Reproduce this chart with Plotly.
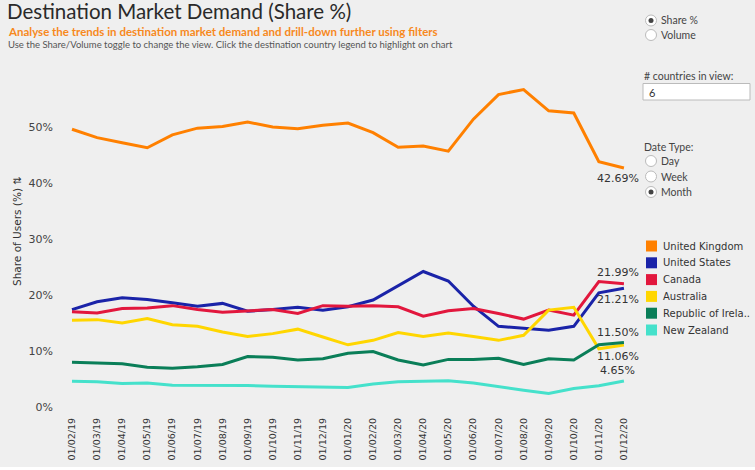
import plotly.graph_objects as go

dates = ["01/02/19","01/03/19","01/04/19","01/05/19","01/06/19","01/07/19","01/08/19",
         "01/09/19","01/10/19","01/11/19","01/12/19","01/01/20","01/02/20","01/03/20",
         "01/04/20","01/05/20","01/06/20","01/07/20","01/08/20","01/09/20","01/10/20",
         "01/11/20","01/12/20"]

uk = [49.6,48.1,47.2,46.3,48.6,49.8,50.1,50.9,50.0,49.7,50.3,50.7,49.0,46.4,46.6,45.7,
      51.4,55.8,56.7,52.9,52.5,43.8,42.69]
us = [17.4,18.8,19.5,19.2,18.6,18.0,18.5,17.1,17.4,17.8,17.3,17.9,19.1,21.7,24.2,22.5,
      18.0,14.4,14.1,13.7,14.4,20.4,21.21]
canada = [17.0,16.8,17.6,17.7,18.1,17.4,16.9,17.2,17.4,16.7,18.1,18.0,18.1,17.9,16.2,17.2,
          17.6,16.7,15.7,17.3,16.4,22.4,21.99]
australia = [15.5,15.6,15.0,15.8,14.7,14.4,13.4,12.6,13.1,13.9,12.5,11.1,11.9,13.3,12.6,13.2,
             12.6,11.9,12.8,17.3,17.8,10.4,11.06]
ireland = [8.0,7.8,7.7,7.1,6.9,7.2,7.6,9.0,8.9,8.4,8.6,9.6,9.9,8.4,7.5,8.5,
           8.5,8.7,7.6,8.6,8.4,11.1,11.50]
nz = [4.6,4.5,4.2,4.3,3.9,3.9,3.8,3.85,3.7,3.6,3.5,3.5,4.1,4.5,4.6,4.7,
      4.3,3.6,3.0,2.4,3.3,3.8,4.65]

names = ["United Kingdom","United States","Canada","Australia","Republic of Irela..","New Zealand"]
series = [uk, us, canada, australia, ireland, nz]
colors = ["#ff8000","#1a23a8","#e2173d","#ffd600","#0a7e58","#45e1cb"]
ytick_vals = [0,10,20,30,40,50]
ytick_text = ["0%","10%","20%","30%","40%","50%"]
end_label_shift = [-11, -11, 11, -11, 10, 10]

W, H = 755, 470
L, R, T, B = 60, 640, 80, 410  # plot area in pixels

def px(x):
    return (x - L) / (R - L)

def py(y):
    return (B - y) / (B - T)

fig = go.Figure()
idx = list(range(len(dates)))
for name, vals, col in zip(names, series, colors):
    fig.add_trace(go.Scatter(x=idx, y=vals, mode="lines", name=name,
                             line=dict(color=col, width=3), showlegend=False,
                             hoverinfo="skip"))

annotations = []
for vals, sh in zip(series, end_label_shift):
    annotations.append(dict(x=idx[-1], y=vals[-1], xref="x", yref="y",
                            text=f"{vals[-1]:.2f}%", showarrow=False, xshift=-6, yshift=sh,
                            font=dict(family="DejaVu Sans", size=11, color="#333")))

# header texts
annotations += [
    dict(x=px(6), y=py(-2), xref="paper", yref="paper", xanchor="left", yanchor="top",
         text="Destination Market Demand (Share %)", showarrow=False, borderpad=0,
         font=dict(family="Lato", size=20.5, color="#2a2a2a")),
    dict(x=px(7), y=py(24), xref="paper", yref="paper", xanchor="left", yanchor="top",
         text="<b>Analyse the trends in destination market demand and drill-down further using filters</b>",
         showarrow=False, borderpad=0, font=dict(family="Lato", size=11.5, color="#f7891d")),
    dict(x=px(7), y=py(38), xref="paper", yref="paper", xanchor="left", yanchor="top",
         text="Use the Share/Volume toggle to change the view. Click the destination country legend to highlight on chart",
         showarrow=False, borderpad=0, font=dict(family="Lato", size=9.5, color="#555")),
    dict(x=px(17), y=py(231), xref="paper", yref="paper", textangle=-90,
         xanchor="center", yanchor="middle",
         text="Share of Users (%) ⇅", showarrow=False,
         font=dict(family="DejaVu Sans", size=10.5, color="#333")),
]

shapes = []
# legend swatches and labels
for i, (name, col) in enumerate(zip(names, colors)):
    cy = 246 + i * 16.8
    shapes.append(dict(type="rect", xref="paper", yref="paper",
                       x0=px(646), x1=px(657), y0=py(cy + 5.5), y1=py(cy - 5.5),
                       line=dict(width=0), fillcolor=col))
    annotations.append(dict(x=px(661), y=py(cy), xref="paper", yref="paper",
                            xanchor="left", yanchor="middle", text=name, showarrow=False,
                            font=dict(family="DejaVu Sans", size=10, color="#333")))

# radio buttons and controls
radios = [(20.5, "Share %", True), (35, "Volume", False),
          (161, "Day", False), (176.5, "Week", False), (192, "Month", True)]
for cy, lab, on in radios:
    r = 5.5
    shapes.append(dict(type="circle", xref="paper", yref="paper",
                       x0=px(651 - r), x1=px(651 + r), y0=py(cy + r), y1=py(cy - r),
                       line=dict(color="#bbb", width=1), fillcolor="white"))
    if on:
        shapes.append(dict(type="circle", xref="paper", yref="paper",
                           x0=px(651 - 2.5), x1=px(651 + 2.5), y0=py(cy + 2.5), y1=py(cy - 2.5),
                           line=dict(color="#444", width=0), fillcolor="#444"))
    annotations.append(dict(x=px(659), y=py(cy), xref="paper", yref="paper",
                            xanchor="left", yanchor="middle", text=lab, showarrow=False,
                            font=dict(family="Lato", size=10.5, color="#444")))
annotations.append(dict(x=px(642), y=py(76), xref="paper", yref="paper", xanchor="left",
                        yanchor="middle", text="# countries in view:", showarrow=False,
                        font=dict(family="Lato", size=10.5, color="#444")))
shapes.append(dict(type="rect", xref="paper", yref="paper", x0=px(643), x1=px(750),
                   y0=py(100), y1=py(83.5), line=dict(color="#bbb", width=1), fillcolor="white"))
annotations.append(dict(x=px(647), y=py(92), xref="paper", yref="paper", xanchor="left",
                        yanchor="middle", text="6", showarrow=False,
                        font=dict(family="Lato", size=11, color="#333")))
annotations.append(dict(x=px(642), y=py(147), xref="paper", yref="paper", xanchor="left",
                        yanchor="middle", text="Date Type:", showarrow=False,
                        font=dict(family="Lato", size=10.5, color="#444")))
shapes.append(dict(type="rect", xref="paper", yref="paper", x0=px(0), x1=px(755),
                   y0=py(470), y1=py(467), line=dict(width=0), fillcolor="white"))

fig.update_layout(
    width=W, height=H,
    margin=dict(l=L, r=W - R, t=T, b=H - B, autoexpand=False),
    paper_bgcolor="#efefef", plot_bgcolor="#efefef",
    showlegend=False,
    xaxis=dict(range=[-0.478, 22.64], tickmode="array", tickvals=idx, ticktext=dates,
               tickangle=-90, showgrid=False, zeroline=False, showline=False,
               ticks="", ticklabelstandoff=5, automargin=False,
               tickfont=dict(family="DejaVu Sans", size=9.5, color="#333")),
    yaxis=dict(range=[-0.54, 58.4], tickmode="array", tickvals=ytick_vals, ticktext=ytick_text,
               showgrid=False, zeroline=False, showline=False, ticks="",
               ticklabelstandoff=6, automargin=False,
               tickfont=dict(family="DejaVu Sans", size=11, color="#444")),
    annotations=annotations, shapes=shapes,
)

fig.write_html("out.html", config={"displayModeBar": False},
               post_script="document.body.style.margin='0px';")
